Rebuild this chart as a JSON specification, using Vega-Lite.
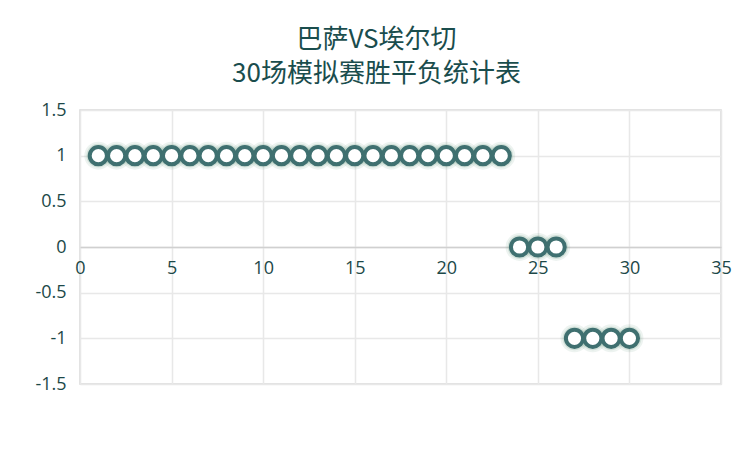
{
  "$schema": "https://vega.github.io/schema/vega-lite/v6.json",
  "width": 641,
  "height": 274,
  "autosize": "none",
  "padding": {"left": 80, "top": 110, "right": 32, "bottom": 82},
  "background": "white",
  "config": {
    "view": {"stroke": "#d9d9d9", "strokeWidth": 1.5}
  },
  "title": {
    "text": ["巴萨VS埃尔切", "30场模拟赛胜平负统计表"],
    "font": "Noto Sans CJK SC",
    "fontSize": 26,
    "fontWeight": "normal",
    "color": "#1a4d4d",
    "anchor": "middle",
    "dx": -24,
    "lineHeight": 34,
    "offset": 14
  },
  "data": {
    "values": [
      {"game": 1, "result": 1}, {"game": 2, "result": 1}, {"game": 3, "result": 1}, {"game": 4, "result": 1},
      {"game": 5, "result": 1}, {"game": 6, "result": 1}, {"game": 7, "result": 1}, {"game": 8, "result": 1},
      {"game": 9, "result": 1}, {"game": 10, "result": 1}, {"game": 11, "result": 1}, {"game": 12, "result": 1},
      {"game": 13, "result": 1}, {"game": 14, "result": 1}, {"game": 15, "result": 1}, {"game": 16, "result": 1},
      {"game": 17, "result": 1}, {"game": 18, "result": 1}, {"game": 19, "result": 1}, {"game": 20, "result": 1},
      {"game": 21, "result": 1}, {"game": 22, "result": 1}, {"game": 23, "result": 1},
      {"game": 24, "result": 0}, {"game": 25, "result": 0}, {"game": 26, "result": 0},
      {"game": 27, "result": -1}, {"game": 28, "result": -1}, {"game": 29, "result": -1}, {"game": 30, "result": -1}
    ]
  },
  "encoding": {
    "x": {
      "field": "game", "type": "quantitative",
      "scale": {"domain": [0, 35], "nice": false},
      "axis": {"title": null, "values": [0, 5, 10, 15, 20, 25, 30, 35], "orient": "bottom", "offset": -137, "domain": true, "domainColor": "#d0d0d0", "domainWidth": 1.5, "ticks": false, "labelFlush": false, "labelFont": "Open Sans", "labelFontSize": 18, "labelColor": "#1c4848", "labelPadding": 12, "grid": true, "gridColor": "#e8e8e8", "gridWidth": 1.5}
    },
    "y": {
      "field": "result", "type": "quantitative",
      "scale": {"domain": [-1.5, 1.5], "nice": false},
      "axis": {"title": null, "values": [-1.5, -1, -0.5, 0, 0.5, 1, 1.5], "labelExpr": "toString(datum.value)", "domain": false, "ticks": false, "labelFont": "Open Sans", "labelFontSize": 18, "labelColor": "#1c4848", "labelPadding": 14, "grid": true, "gridColor": "#e8e8e8", "gridWidth": 1.5}
    }
  },
  "layer": [
    {"mark": {"type": "point", "shape": "circle", "filled": true, "size": 780, "color": "#6f9f85", "opacity": 0.12, "strokeWidth": 0}},
    {"mark": {"type": "point", "shape": "circle", "filled": true, "size": 570, "color": "#6f9f85", "opacity": 0.2, "strokeWidth": 0}},
    {"mark": {"type": "point", "shape": "circle", "filled": false, "size": 296, "fill": "white", "fillOpacity": 1, "stroke": "#3f7070", "strokeWidth": 4, "opacity": 1}}
  ]
}
